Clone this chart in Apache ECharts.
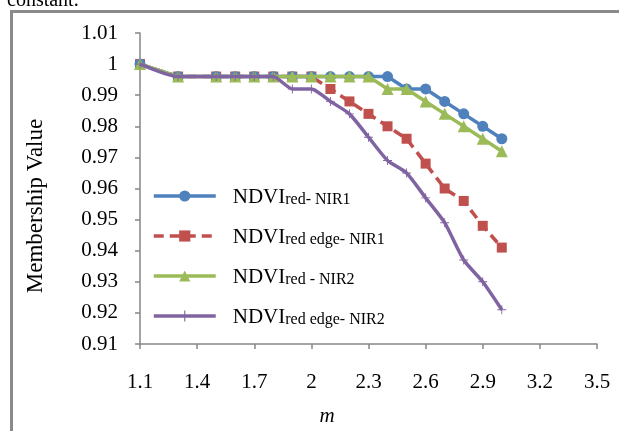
<!DOCTYPE html>
<html>
<head>
<meta charset="utf-8">
<script src="https://cdn.jsdelivr.net/npm/echarts@6/dist/echarts.min.js"></script>
<style>
html, body { margin: 0; padding: 0; background: #fff; }
#chart1 { width: 619px; height: 431px; }
</style>
</head>
<body>
<div id="chart1"></div>
<script>
// x axis categories (m), every 0.1; labels shown every 0.3
var mTicks = ['1.1', '1.2', '1.3', '1.4', '1.5', '1.6', '1.7', '1.8', '1.9', '2', '2.1', '2.2', '2.3',
	'2.4', '2.5', '2.6', '2.7', '2.8', '2.9', '3', '3.1', '3.2', '3.3', '3.4', '3.5'];
// m values where points were measured
var mValues = ['1.1', '1.3', '1.5', '1.6', '1.7', '1.8', '1.9', '2', '2.1', '2.2', '2.3',
	'2.4', '2.5', '2.6', '2.7', '2.8', '2.9', '3'];

var redNir1 = [1, 0.996, 0.996, 0.996, 0.996, 0.996, 0.996, 0.996, 0.996, 0.996, 0.996,
	0.996, 0.992, 0.992, 0.988, 0.984, 0.980, 0.976];
var redEdgeNir1 = [1, 0.996, 0.996, 0.996, 0.996, 0.996, 0.996, 0.996, 0.992, 0.988, 0.984,
	0.980, 0.976, 0.968, 0.960, 0.956, 0.948, 0.941];
var redNir2 = [1, 0.996, 0.996, 0.996, 0.996, 0.996, 0.996, 0.996, 0.996, 0.996, 0.996,
	0.992, 0.992, 0.988, 0.984, 0.980, 0.976, 0.972];
var redEdgeNir2 = [1, 0.996, 0.996, 0.996, 0.996, 0.996, 0.992, 0.992, 0.988, 0.984, 0.9765,
	0.969, 0.965, 0.957, 0.949, 0.937, 0.930, 0.921];

var names = ['NDVI|red- NIR1', 'NDVI|red edge- NIR1', 'NDVI|red - NIR2', 'NDVI|red edge- NIR2'];

var myChart = echarts.init(document.getElementById("chart1"));

function pairs(vals) {
	var d = [];
	for (var i = 0; i < vals.length; i++) {
		d.push([mValues[i], vals[i]]);
	}
	return d;
}

var serif = '"Liberation Serif", "Times New Roman", serif';
var axisGray = '#868686';
var plus = 'path://M9,0h2v9h9v2h-9v9h-2v-9h-9v-2h9z';

var option = {
	animation: false,
	grid: { left: 140, right: 22, top: 33, bottom: 87 },
	legend: {
		orient: 'vertical',
		left: 147,
		top: 181,
		itemWidth: 62,
		itemHeight: 14,
		itemGap: 18,
		data: names,
		lineStyle: { width: 3.5 },
		formatter: function (name) {
			var p = name.split('|');
			return '{a|' + p[0] + '}{b|' + p[1] + '}';
		},
		textStyle: {
			padding: [0, 0, 0, 12],
			rich: {
				a: { fontFamily: serif, fontSize: 21, color: '#000', lineHeight: 24, verticalAlign: 'bottom' },
				b: { fontFamily: serif, fontSize: 16, color: '#000', height: 16, lineHeight: 16, padding: [6, 0, 0, 0], verticalAlign: 'bottom' }
			}
		}
	},
	xAxis: {
		type: 'category',
		data: mTicks,
		boundaryGap: false,
		axisLine: { lineStyle: { color: axisGray, width: 1.5 } },
		axisTick: { interval: 2, length: 5, lineStyle: { color: axisGray, width: 1.5 } },
		axisLabel: { interval: 2, margin: 28, color: '#000', fontFamily: serif, fontSize: 21 }
	},
	yAxis: {
		type: 'value',
		min: 0.91,
		max: 1.01,
		interval: 0.01,
		splitLine: { show: false },
		axisLine: { show: true, lineStyle: { color: axisGray, width: 1.5 } },
		axisTick: { show: true, length: 5, lineStyle: { color: axisGray, width: 1.5 } },
		axisLabel: {
			margin: 22, color: '#000', fontFamily: serif, fontSize: 21,
			formatter: function (v) { return String(+v.toFixed(2)); }
		}
	},
	graphic: [
		{ type: 'rect', shape: { x: 11.5, y: 11.5, width: 800, height: 600 }, style: { fill: 'none', stroke: '#8a8a8a', lineWidth: 3 } },
		{ type: 'text', x: 7, y: 11, style: { text: 'constant.', font: '20px ' + serif, fill: '#000', verticalAlign: 'bottom' } },
		{ type: 'text', x: 36, y: 206, rotation: Math.PI / 2, style: { text: 'Membership Value', font: '23px ' + serif, fill: '#000', align: 'center', verticalAlign: 'middle' } },
		{ type: 'text', x: 327, y: 416, style: { text: 'm', font: 'italic 21px ' + serif, fill: '#000', align: 'center', verticalAlign: 'middle' } }
	],
	series: [{
		name: names[0],
		type: 'line',
		data: pairs(redNir1),
		symbol: 'circle',
		symbolSize: 11,
		itemStyle: { color: '#4F81BD' },
		lineStyle: { color: '#4F81BD', width: 3.5 },
		z: 4
	}, {
		name: names[1],
		type: 'line',
		data: pairs(redEdgeNir1),
		symbol: 'rect',
		symbolSize: 10,
		itemStyle: { color: '#C0504D' },
		lineStyle: { color: '#C0504D', width: 3.5, type: [10, 6] },
		z: 3
	}, {
		name: names[2],
		type: 'line',
		data: pairs(redNir2),
		symbol: 'triangle',
		symbolSize: 12,
		itemStyle: { color: '#9BBB59' },
		lineStyle: { color: '#9BBB59', width: 3.5 },
		z: 5
	}, {
		name: names[3],
		type: 'line',
		data: pairs(redEdgeNir2),
		symbol: plus,
		symbolSize: 9,
		smooth: 0.2,
		itemStyle: { color: '#8064A2' },
		lineStyle: { color: '#8064A2', width: 3.5 },
		z: 6
	}]
};
myChart.setOption(option);
</script>
</body>
</html>
